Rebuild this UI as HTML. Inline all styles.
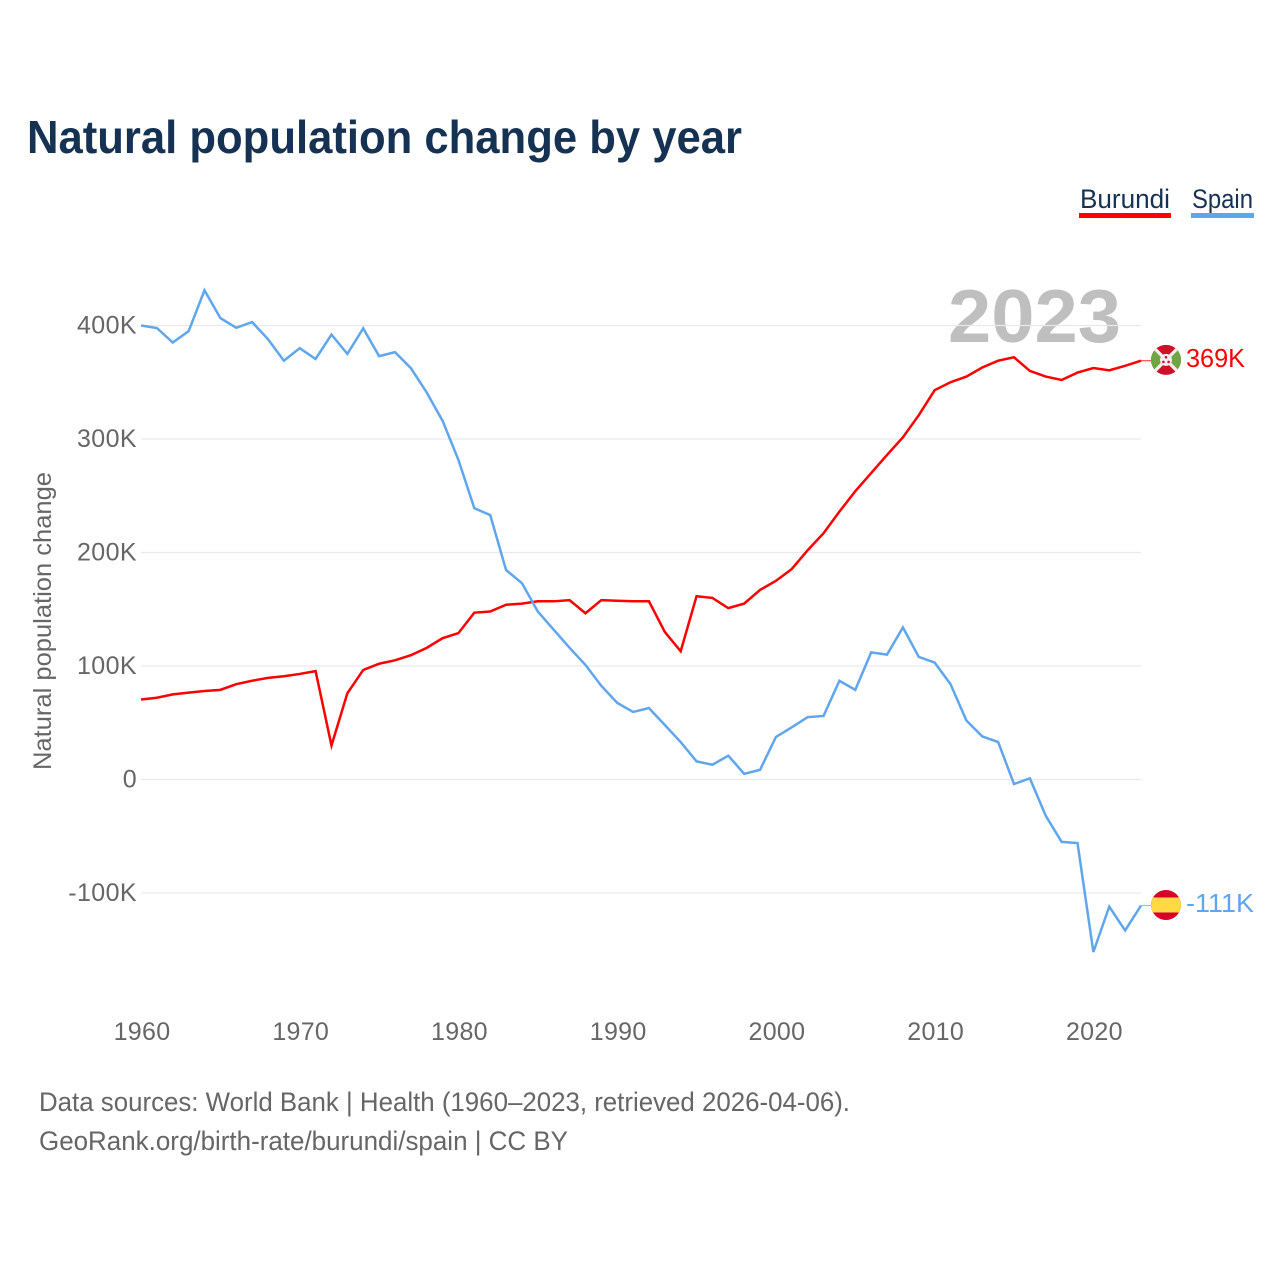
<!DOCTYPE html>
<html lang="en">
<head>
<meta charset="utf-8">
<title>Natural population change by year</title>
<style>
html,body{margin:0;padding:0;background:#fff;}
svg{display:block;font-family:"Liberation Sans",sans-serif;}
</style>
</head>
<body>
<svg id="chart" xmlns="http://www.w3.org/2000/svg" width="1280" height="1280" viewBox="0 0 1280 1280">
  <rect width="1280" height="1280" fill="#fff"/>
  <text x="27" y="153" font-size="46" font-weight="700" fill="#163253" textLength="715" lengthAdjust="spacingAndGlyphs">Natural population change by year</text>

  <g>
    <g>
      <text x="1080" y="208" font-size="27" fill="#163253" textLength="90" lengthAdjust="spacingAndGlyphs">Burundi</text>
      <rect x="1079" y="213" width="92" height="5" fill="#ff0000"/>
    </g>
    <g>
      <text x="1192" y="208" font-size="27" fill="#163253" textLength="61" lengthAdjust="spacingAndGlyphs">Spain</text>
      <rect x="1191" y="213" width="63" height="5" fill="#5fa6ec"/>
    </g>
  </g>

  <text x="948" y="342" font-size="75" font-weight="700" fill="#bfbfbf" textLength="173" lengthAdjust="spacingAndGlyphs">2023</text>

  <g id="grid"></g>
  <g id="yticks"></g>
  <g id="xticks"></g>
  <text transform="translate(51,770) rotate(-90)" x="0" y="0" font-size="25" fill="#666666" textLength="298" lengthAdjust="spacingAndGlyphs">Natural population change</text>

  <g id="lines"></g>

  <defs>
    <clipPath id="flagClipB"><circle id="clipCircleB" r="15"/></clipPath>
    <clipPath id="flagClipS"><circle id="clipCircleS" r="15"/></clipPath>
  </defs>

  <g id="flagB">
    <g clip-path="url(#flagClipB)">
      <rect x="-16" y="-16" width="32" height="32" fill="#ce1126"/>
      <polygon points="-17,-17 0,0 -17,17" fill="#6fa644"/>
      <polygon points="17,-17 0,0 17,17" fill="#6fa644"/>
      <line x1="-16" y1="-16" x2="16" y2="16" stroke="#f1f1f1" stroke-width="3.2"/>
      <line x1="-16" y1="16" x2="16" y2="-16" stroke="#f1f1f1" stroke-width="3.2"/>
      <circle r="6" fill="#f1f1f1"/>
      <circle cx="0" cy="-2.6" r="1.3" fill="#ce1126"/>
      <circle cx="-2.6" cy="2" r="1.3" fill="#ce1126"/>
      <circle cx="2.6" cy="2" r="1.3" fill="#ce1126"/>
    </g>
  </g>
  <g id="flagS">
    <g clip-path="url(#flagClipS)">
      <rect x="-16" y="-16" width="32" height="32" fill="#d80027"/>
      <rect x="-16" y="-7.5" width="32" height="15" fill="#ffda44"/>
    </g>
  </g>
  <text id="endB" x="1186" font-size="26" fill="#ff0000" textLength="59" lengthAdjust="spacingAndGlyphs"></text>
  <text id="endS" x="1186" font-size="26" fill="#5fa6ec" textLength="68" lengthAdjust="spacingAndGlyphs"></text>

  <text x="39" y="1111" font-size="27" fill="#666666" textLength="811" lengthAdjust="spacingAndGlyphs">Data sources: World Bank | Health (1960–2023, retrieved 2026-04-06).</text>
  <text x="39" y="1150" font-size="27" fill="#666666" textLength="529" lengthAdjust="spacingAndGlyphs">GeoRank.org/birth-rate/burundi/spain | CC BY</text>
</svg>
<script>
const firstYear = 1960;
const burundi = [70.5,72,75,76.5,78,79,84,87,89.5,91,93,95.5,30,76,96.5,102,105,109.5,116,124.5,129,147,148,154,155,157,157,158,146.5,158,157.5,157,157,130,113,161.5,160,151,155,167,175,185.5,202,217,236,254,270,286,301.5,321,343,350,355,363,369,372,360,355,352,358.5,362.5,360.5,364.5,369];
const spain = [400,397.8,385,395,431,406.5,398,403,388,369,380,370.5,392,375,397.5,373,376.5,362.5,341,316,281.5,239,233,184.5,173,148,132,116,101,82.5,67.5,59.5,63,48,33,16,13,21,5,8.5,37.5,46,55,56,87,79,112,110,134,108,103,84,52,38,33,-4,1,-32,-55,-56,-152,-112,-133,-111];
const yTicks = [-100,0,100,200,300,400];
const xTicks = [1960,1970,1980,1990,2000,2010,2020];
const burundiLabel = "369K";
const spainLabel = "-111K";

const NS = "http://www.w3.org/2000/svg";
function xScale(year){ return 141 + (year - 1960) * (1000 / 63); }
function yScale(v){ return 779.5 - v * 1.135; }
function tickText(v){ return v === 0 ? "0" : v + "K"; }
function make(tag, parent){
  const el = document.createElementNS(NS, tag);
  parent.appendChild(el);
  return el;
}
const grid = document.getElementById("grid");
const yG = document.getElementById("yticks");
const xG = document.getElementById("xticks");
const linesG = document.getElementById("lines");
const lastYear = firstYear + burundi.length - 1;

yTicks.forEach(function(v){
  const l = make("line", grid);
  
  
  l.setAttribute("x1", xScale(firstYear));
  l.setAttribute("x2", xScale(lastYear));
  l.setAttribute("y1", yScale(v));
  l.setAttribute("y2", yScale(v));
  l.setAttribute("stroke", "#e9e9e9");
  l.setAttribute("stroke-width", "1.3");
  const t = make("text", yG);
  
  
  t.setAttribute("x", 137);
  t.setAttribute("y", yScale(v) + 8);
  t.setAttribute("text-anchor", "end");
  t.setAttribute("font-size", "25");
  t.setAttribute("letter-spacing", "0.4");
  t.setAttribute("fill", "#666666");
  t.textContent = tickText(v);
});

xTicks.forEach(function(y){
  const t = make("text", xG);
  
  
  t.setAttribute("x", xScale(y) + 1);
  t.setAttribute("y", 1040);
  t.setAttribute("text-anchor", "middle");
  t.setAttribute("font-size", "25");
  t.setAttribute("letter-spacing", "0.3");
  t.setAttribute("fill", "#666666");
  t.textContent = y;
});

function drawSeries(values, color){
  const p = make("polyline", linesG);
  
  
  const pts = values.map(function(v, i){
    return xScale(firstYear + i).toFixed(2) + "," + yScale(v).toFixed(2);
  });
  p.setAttribute("points", pts.join(" "));
  p.setAttribute("fill", "none");
  p.setAttribute("stroke", color);
  p.setAttribute("stroke-width", "2.5");
  p.setAttribute("stroke-linejoin", "miter");
  const last = values[values.length - 1];
  const c = make("line", linesG);
  
  
  c.setAttribute("x1", xScale(lastYear));
  c.setAttribute("x2", xScale(lastYear) + 10);
  c.setAttribute("y1", yScale(last));
  c.setAttribute("y2", yScale(last));
  c.setAttribute("stroke", color);
  c.setAttribute("stroke-width", "1.2");
  c.setAttribute("stroke-opacity", "0.7");
}
drawSeries(burundi, "#ff0000");
drawSeries(spain, "#5fa6ec");

const endX = xScale(lastYear) + 25;
const yB = yScale(burundi[burundi.length - 1]);
const yS = yScale(spain[spain.length - 1]);
document.getElementById("flagB").setAttribute("transform", "translate(" + endX + "," + (yB - 0.8) + ")");
document.getElementById("flagS").setAttribute("transform", "translate(" + endX + "," + (yS - 0.5) + ")");
const endB = document.getElementById("endB");
endB.setAttribute("y", yB + 6.5);
endB.textContent = burundiLabel;
const endS = document.getElementById("endS");
endS.setAttribute("y", yS + 6.5);
endS.textContent = spainLabel;
</script>
</body>
</html>
